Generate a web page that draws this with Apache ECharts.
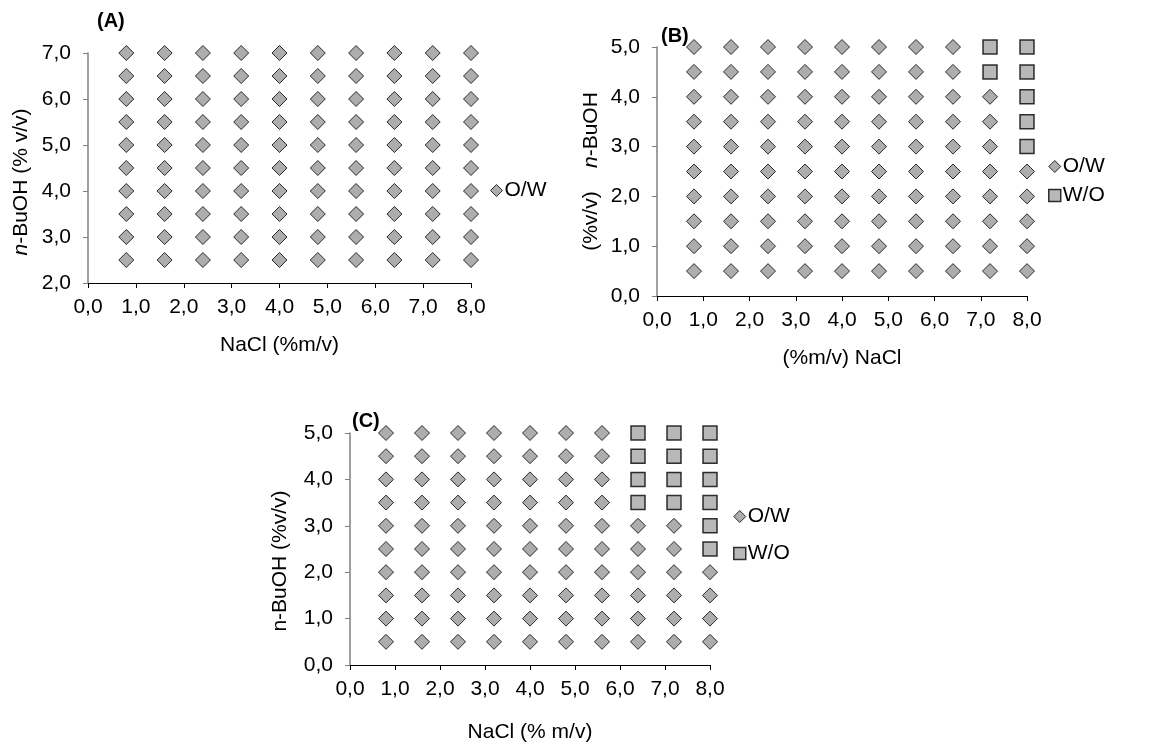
<!DOCTYPE html>
<html>
<head>
<meta charset="utf-8">
<script src="https://cdn.jsdelivr.net/npm/echarts@6/dist/echarts.min.js"></script>
<style>
  html, body { margin: 0; padding: 0; background: #fff; }
  #main { width: 1157px; height: 744px; }
</style>
</head>
<body>
<div id="main"></div>
<script>
// NaCl levels (% m/v), same for all three panels
const nacl = [0.8, 1.6, 2.4, 3.2, 4.0, 4.8, 5.6, 6.4, 7.2, 8.0]
// n-BuOH levels (% v/v)
const butanolA = [2.5, 3.0, 3.5, 4.0, 4.5, 5.0, 5.5, 6.0, 6.5, 7.0]
const butanolBC = [0.5, 1.0, 1.5, 2.0, 2.5, 3.0, 3.5, 4.0, 4.5, 5.0]
// points that gave W/O emulsions, [NaCl, n-BuOH]
const woA = []
const woB = [[7.2, 4.5], [7.2, 5.0], [8.0, 3.0], [8.0, 3.5], [8.0, 4.0], [8.0, 4.5], [8.0, 5.0]]
const woC = [
  [6.4, 3.5], [6.4, 4.0], [6.4, 4.5], [6.4, 5.0],
  [7.2, 3.5], [7.2, 4.0], [7.2, 4.5], [7.2, 5.0],
  [8.0, 2.5], [8.0, 3.0], [8.0, 3.5], [8.0, 4.0], [8.0, 4.5], [8.0, 5.0]
]
const xTicks = [0, 8, 1]
const yTicksA = [2, 7, 1]
const yTicksBC = [0, 5, 1]

const font = 'Liberation Sans, Arial, sans-serif'

function isWO (list, x, y) {
  return list.some(p => p[0] === x && p[1] === y)
}

function owPoints (butanol, wo) {
  const pts = []
  nacl.forEach(x => {
    butanol.forEach(y => {
      if (!isWO(wo, x, y)) pts.push([x, y])
    })
  })
  return pts
}

function fmt (v) {
  return v.toFixed(1).replace('.', ',')
}

function xAxis (idx, name, gap) {
  return {
    type: 'value',
    gridIndex: idx,
    min: xTicks[0],
    max: xTicks[1],
    interval: xTicks[2],
    name: name,
    nameLocation: 'middle',
    nameGap: gap,
    nameTextStyle: { fontFamily: font, fontSize: 21, color: '#000' },
    splitLine: { show: false },
    axisLine: { onZero: false, lineStyle: { color: '#000', width: 1 } },
    axisTick: { length: 5, lineStyle: { color: '#000' } },
    axisLabel: { formatter: fmt, fontFamily: font, fontSize: 21, color: '#000', margin: 14 }
  }
}

function yAxis (idx, ticks, name, gap, shift) {
  return {
    type: 'value',
    gridIndex: idx,
    min: ticks[0],
    max: ticks[1],
    interval: ticks[2],
    name: name,
    nameLocation: 'middle',
    nameGap: gap,
    nameTextStyle: {
      fontFamily: font,
      fontSize: 21,
      color: '#000',
      padding: [0, shift * 2, 0, 0],
      rich: { i: { fontFamily: font, fontSize: 21, fontStyle: 'italic', color: '#000' } }
    },
    splitLine: { show: false },
    axisLine: { onZero: false, lineStyle: { color: '#808080', width: 1.5 } },
    axisTick: { length: 5, lineStyle: { color: '#808080' } },
    axisLabel: { formatter: fmt, fontFamily: font, fontSize: 21, color: '#000', margin: 17 }
  }
}

const diamondStyle = { color: '#999999', borderColor: '#000', borderWidth: 1 }
const squareStyle = { color: '#a6a6a6', borderColor: '#000', borderWidth: 1.5 }

function panelSeries (idx, butanol, wo) {
  const s = [{
    name: 'O/W',
    type: 'scatter',
    xAxisIndex: idx,
    yAxisIndex: idx,
    symbol: 'diamond',
    symbolSize: 15,
    itemStyle: diamondStyle,
    data: owPoints(butanol, wo)
  }]
  if (wo.length) {
    s.push({
      name: 'W/O',
      type: 'scatter',
      xAxisIndex: idx,
      yAxisIndex: idx,
      symbol: 'rect',
      symbolSize: 14,
      itemStyle: squareStyle,
      data: wo
    })
  }
  return s
}

function legend (left, top, gap, items) {
  return {
    left: left,
    top: top,
    orient: 'vertical',
    itemGap: gap,
    itemWidth: 12,
    itemHeight: 12,
    padding: 0,
    selectedMode: false,
    textStyle: { fontFamily: font, fontSize: 21, color: '#000', padding: [0, 0, 0, -3] },
    data: items
  }
}

const owItem = { name: 'O/W', icon: 'diamond', itemStyle: diamondStyle }
const woItem = { name: 'W/O', icon: 'rect', itemStyle: squareStyle }

const chart = echarts.init(document.getElementById('main'))
chart.setOption({
  animation: false,
  backgroundColor: '#fff',
  title: [
    { text: '(A)', left: 97, top: 11, padding: 0, textStyle: { fontFamily: font, fontSize: 20, fontWeight: 'bold', color: '#000' } },
    { text: '(B)', left: 661, top: 26, padding: 0, textStyle: { fontFamily: font, fontSize: 20, fontWeight: 'bold', color: '#000' } },
    { text: '(C)', left: 352, top: 411, padding: 0, textStyle: { fontFamily: font, fontSize: 20, fontWeight: 'bold', color: '#000' } }
  ],
  grid: [
    { left: 88, top: 53, width: 383, height: 230 },
    { left: 657, top: 47, width: 370, height: 249 },
    { left: 350, top: 433, width: 360, height: 241 }
  ],
  xAxis: [
    xAxis(0, 'NaCl (%m/v)', 52),
    xAxis(1, '(%m/v) NaCl', 52),
    xAxis(2, 'NaCl (% m/v)', 57)
  ],
  yAxis: [
    yAxis(0, yTicksA, '{i|n}-BuOH (% v/v)', 56, 14),
    yAxis(1, yTicksBC, '(%v/v)    {i|n}-BuOH', 55, 0),
    yAxis(2, yTicksBC, 'n-BuOH (%v/v)', 59, 12)
  ],
  legend: [
    legend(490, 180, 10, [owItem]),
    legend(1048, 156, 8, [owItem, woItem]),
    legend(733, 506, 16, [owItem, woItem])
  ],
  series: [
    ...panelSeries(0, butanolA, woA),
    ...panelSeries(1, butanolBC, woB),
    ...panelSeries(2, butanolBC, woC)
  ]
})
</script>
</body>
</html>
